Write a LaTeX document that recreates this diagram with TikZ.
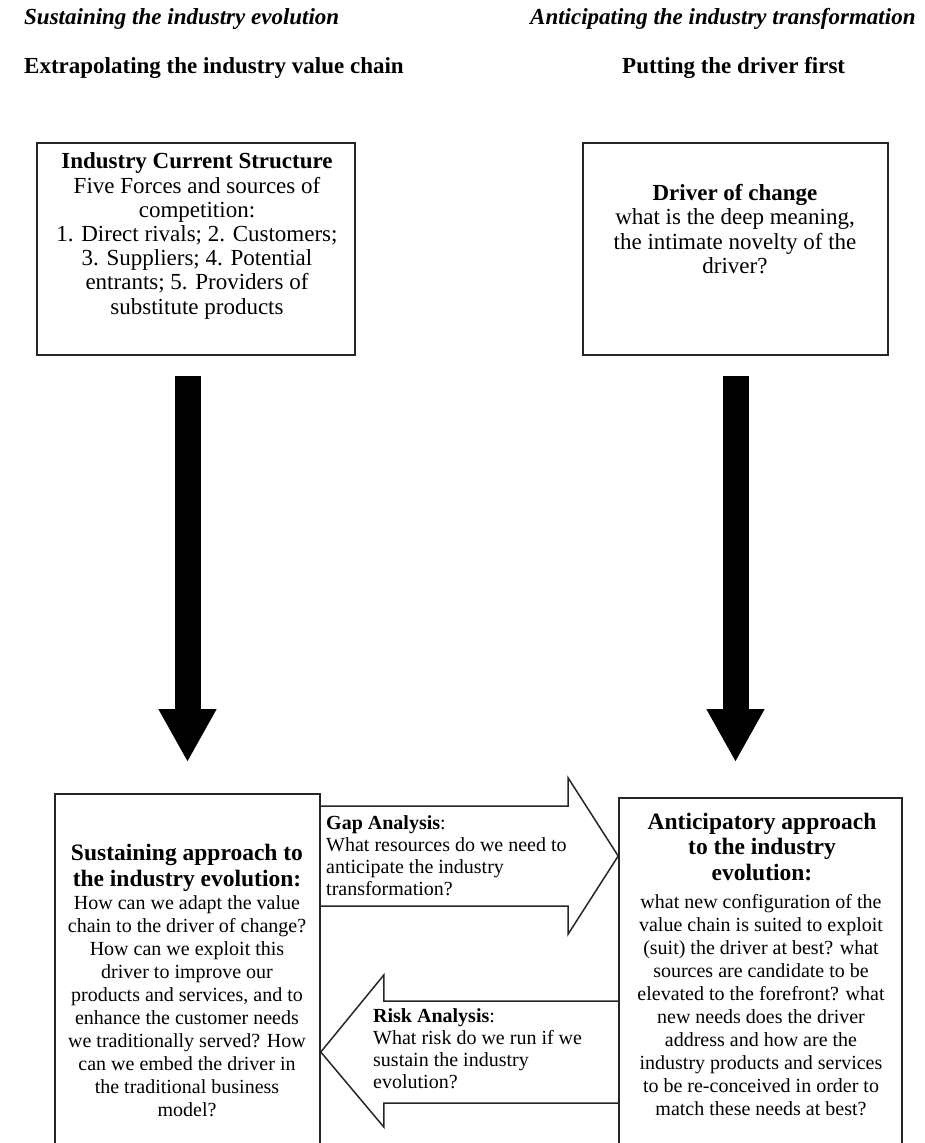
\documentclass[tikz,border=0pt]{standalone}
\usepackage{fontspec}
\setmainfont{Liberation Serif}
\usetikzlibrary{arrows.meta,calc}
\begin{document}
\begin{tikzpicture}[x=1pt,y=-1pt,
  frame/.style={draw=black!85, line width=1.6pt, inner sep=0pt, rectangle},
  toptitle/.style={inner sep=0pt, anchor=base west, font=\fontsize{23}{24}\selectfont\bfseries\itshape},
  subtitle/.style={inner sep=0pt, anchor=base west, font=\fontsize{23}{24}\selectfont\bfseries},
  toptext/.style={inner sep=0pt, align=center, font=\fontsize{23}{24.2}\selectfont},
  boxhead/.style={inner sep=0pt, align=center, font=\fontsize{23.5}{25.5}\selectfont\bfseries},
  boxbody/.style={inner sep=0pt, align=center, font=\fontsize{20}{23}\selectfont},
  arrowtext/.style={inner sep=0pt, align=left, anchor=west, font=\fontsize{20}{22}\selectfont},
  bigarrow/.style={line width=26pt, black, -{Triangle[length=53pt,width=54pt]}},
  flowarrow/.style={draw=black!85, line width=1.5pt, line join=miter}
]
\useasboundingbox (0,0) rectangle (925,1143);
\clip (0,0) rectangle (925,1143);

% column headings
\node[toptitle] (h1) at (24,24) {Sustaining the industry evolution};
\node[toptitle] (h2) at (530,24) {Anticipating the industry transformation};
\node[subtitle] (s1) at (24,73) {Extrapolating the industry value chain};
\node[subtitle] (s2) at (622,73) {Putting the driver first};

% upper boxes
\node[frame, minimum width=318pt, minimum height=212pt] (cur) at (196,249) {};
\node[toptext] (curtext) at (197,236) {\textbf{Industry Current Structure}\\Five Forces and sources of\\competition:\\1. Direct rivals; 2. Customers;\\3. Suppliers; 4. Potential\\entrants; 5. Providers of\\substitute products};

\node[frame, minimum width=305pt, minimum height=212pt] (drv) at (735.5,249) {};
\node[toptext] (drvtext) at (735,229) {\textbf{Driver of change}\\what is the deep meaning,\\the intimate novelty of the\\driver?};

% lower boxes (running past the lower edge)
\node[frame, minimum width=265pt, minimum height=386pt] (sus) at (187.5,987) {};
\node[boxhead] (sushead) at (187,868) {Sustaining approach to\\the industry evolution:};
\node[boxbody] (susbody) at (187,1006) {How can we adapt the value\\chain to the driver of change?\\How can we exploit this\\driver to improve our\\products and services, and to\\enhance the customer needs\\we traditionally served? How\\can we embed the driver in\\the traditional business\\model?};

\node[frame, minimum width=283pt, minimum height=382pt] (ant) at (760.5,989) {};
\node[boxhead] (anthead) at (762,847) {Anticipatory approach\\to the industry\\evolution:};
\node[boxbody] (antbody) at (761,1005) {what new configuration of the\\value chain is suited to exploit\\(suit) the driver at best? what\\sources are candidate to be\\elevated to the forefront? what\\new needs does the driver\\address and how are the\\industry products and services\\to be re-conceived in order to\\match these needs at best?};

% heavy downward arrows
\draw[bigarrow, shorten <=20pt, shorten >=31pt] (sus.north |- cur.south) -- (sus.north);
\draw[bigarrow, shorten <=20pt, shorten >=35pt] (drv.south) -- (drv.south |- ant.north);

% gap analysis arrow (left to right)
\coordinate (gapL) at (sus.east |- 0,856);
\coordinate (gapR) at (ant.west |- 0,856);
\draw[flowarrow] ($(gapL)+(0,-50)$) -- ($(gapR)+(-50,-50)$) -- ($(gapR)+(-50,-78)$)
  -- (gapR) -- ($(gapR)+(-50,78)$) -- ($(gapR)+(-50,50)$) -- ($(gapL)+(0,50)$);
\node[arrowtext] (gaptext) at (326,856) {\textbf{Gap Analysis}:\\What resources do we need to\\anticipate the industry\\transformation?};

% risk analysis arrow (right to left)
\coordinate (riskL) at (sus.east |- 0,1052);
\coordinate (riskR) at (ant.west |- 0,1052);
\draw[flowarrow] ($(riskR)+(0,-51)$) -- ($(riskL)+(63,-51)$) -- ($(riskL)+(63,-77)$)
  -- (riskL) -- ($(riskL)+(63,75)$) -- ($(riskL)+(63,51)$) -- ($(riskR)+(0,51)$);
\node[arrowtext] (risktext) at (373,1049) {\textbf{Risk Analysis}:\\What risk do we run if we\\sustain the industry\\evolution?};
\end{tikzpicture}
\end{document}
